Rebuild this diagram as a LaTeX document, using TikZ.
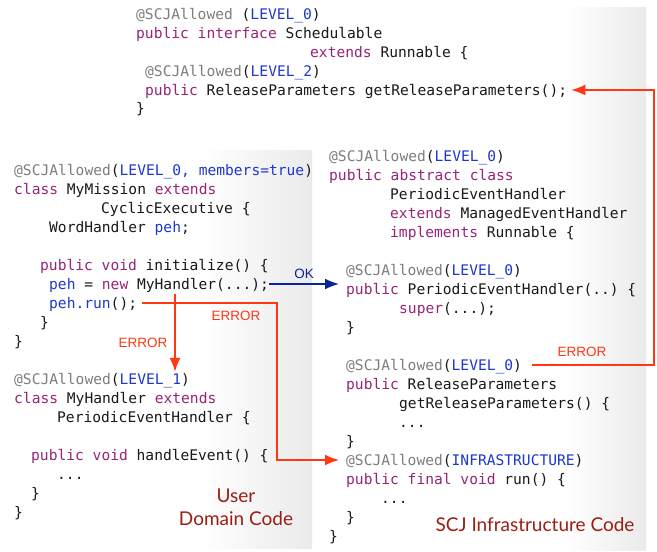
\documentclass[tikz,border=0pt]{standalone}
\usepackage{fontspec}
\setmonofont{DejaVu Sans Mono}
\newfontfamily\labelfont{Lato}
\newfontfamily\markfont{Liberation Sans}
\usetikzlibrary{arrows.meta}

\definecolor{annogray}{RGB}{125,125,125}
\definecolor{kwdpurple}{RGB}{150,35,120}
\definecolor{idblue}{RGB}{30,55,205}
\definecolor{codeblack}{RGB}{25,25,25}
\definecolor{errred}{RGB}{255,55,20}
\definecolor{oknavy}{RGB}{10,35,150}
\definecolor{titlered}{RGB}{155,30,20}

\newcommand{\codefont}{\fontsize{14.6}{17}\selectfont\ttfamily}
\newcommand{\anno}[1]{\textcolor{annogray}{#1}}
\newcommand{\kwd}[1]{\textcolor{kwdpurple}{#1}}
\newcommand{\idf}[1]{\textcolor{idblue}{#1}}

\begin{document}
\begin{tikzpicture}
    [x=1pt,y=-1pt,%%%%%%%%%%%%%%%%%%%%%%%%%%%%%%
        code/.style={anchor=west,inner sep=0pt,text height=12pt,text depth=2pt,font=\codefont,text=codeblack},
        errline/.style={draw=errred,line width=1.6pt,-{Latex[length=14pt,width=11pt]}},
        okline/.style={draw=oknavy,line width=1.6pt,-{Latex[length=14pt,width=11pt]}},
        errlabel/.style={inner sep=0pt,font=\markfont\fontsize{13.5}{15}\selectfont,text=errred},
        oklabel/.style={inner sep=0pt,font=\markfont\fontsize{13.5}{15}\selectfont,text=oknavy},
        partlabel/.style={inner sep=0pt,align=center,font=\labelfont\fontsize{19}{23}\selectfont,text=titlered},
    ]%%%%%%%%%%%%%%%%%%%%%%%%%%%%%%

\useasboundingbox (0,0) rectangle (657,552);

% panels
\shade[left color=white, right color=black!8] (200,150) rectangle (312,548);
\shade[left color=white, right color=black!8] (565,7) rectangle (646,550);

% interface Schedulable
\node[code] (t1) at (136,14) {\anno{@SCJAllowed} (\idf{LEVEL\_0})};
\node[code] (t2) at (136,33) {\kwd{public interface} Schedulable};
\node[code] (t3) at (310,52) {\kwd{extends} Runnable \{};
\node[code] (t4) at (145,71) {\anno{@SCJAllowed}(\idf{LEVEL\_2})};
\node[code] (t5) at (145,90) {\kwd{public} ReleaseParameters getReleaseParameters();};
\node[code] (t6) at (136,108) {\}};

% user domain code
\node[code] (a1) at (14,170) {\anno{@SCJAllowed}(\idf{LEVEL\_0, members=true})};
\node[code] (a2) at (14,189) {\kwd{class} MyMission \kwd{extends}};
\node[code] (a3) at (101,208) {CyclicExecutive \{};
\node[code] (a4) at (49,227) {WordHandler \idf{peh};};
\node[code] (a5) at (40,265) {\kwd{public void} initialize() \{};
\node[code] (a6) at (49,284) {\idf{peh} = \kwd{new} MyHandler(...);};
\node[code] (a7) at (49,303) {\idf{peh.run}();};
\node[code] (a8) at (40,322) {\}};
\node[code] (a9) at (14,341) {\}};

\node[code] (b1) at (14,379) {\anno{@SCJAllowed}(\idf{LEVEL\_1})};
\node[code] (b2) at (14,398) {\kwd{class} MyHandler \kwd{extends}};
\node[code] (b3) at (57,417) {PeriodicEventHandler \{};
\node[code] (b4) at (31,455) {\kwd{public void} handleEvent() \{};
\node[code] (b5) at (57,474) {...};
\node[code] (b6) at (31,493) {\}};
\node[code] (b7) at (14,512) {\}};

% infrastructure code
\node[code] (c1) at (329,156) {\anno{@SCJAllowed}(\idf{LEVEL\_0})};
\node[code] (c2) at (329,175) {\kwd{public abstract class}};
\node[code] (c3) at (390,194) {PeriodicEventHandler};
\node[code] (c4) at (390,213) {\kwd{extends} ManagedEventHandler};
\node[code] (c5) at (390,232) {\kwd{implements} Runnable \{};
\node[code] (c6) at (346,270) {\anno{@SCJAllowed}(\idf{LEVEL\_0})};
\node[code] (c7) at (346,289) {\kwd{public} PeriodicEventHandler(..) \{};
\node[code] (c8) at (399,308) {\kwd{super}(...);};
\node[code] (c9) at (346,327) {\}};
\node[code] (c10) at (346,365) {\anno{@SCJAllowed}(\idf{LEVEL\_0})};
\node[code] (c11) at (346,384) {\kwd{public} ReleaseParameters};
\node[code] (c12) at (399,403) {getReleaseParameters() \{};
\node[code] (c13) at (399,422) {...};
\node[code] (c14) at (346,441) {\}};
\node[code] (c15) at (346,460) {\anno{@SCJAllowed}(\idf{INFRASTRUCTURE})};
\node[code] (c16) at (346,479) {\kwd{public final void} run() \{};
\node[code] (c17) at (381,498) {...};
\node[code] (c18) at (346,517) {\}};
\node[code] (c19) at (329,536) {\}};

\node[partlabel] (userlab) at (236,507) {User\\Domain Code};
\node[partlabel] (scjlab) at (535,525) {SCJ Infrastructure Code};

% calls
\draw[okline] (a6.east) -- ([xshift=-7pt]c7.west |- a6.east)
    node[oklabel, midway, above=5pt] (oklab) {OK};

\coordinate (errtop) at (175,294);
\draw[errline] (errtop) -- (errtop |- b1.north);
\node[errlabel] (err1) at (143,343) {ERROR};

\coordinate (runbend) at (277,0);
\draw[errline] ([xshift=5pt]a7.east) -| (runbend |- c15.west) -- ([xshift=-7pt]c15.west);
\node[errlabel] (err2) at (236,316) {ERROR};

\coordinate (rpbend) at (654,0);
\draw[errline] ([xshift=10pt]c10.east) -| (rpbend |- t5.east) -- ([xshift=4pt]t5.east);
\node[errlabel] (err3) at (582,352) {ERROR};
\end{tikzpicture}
\end{document}
